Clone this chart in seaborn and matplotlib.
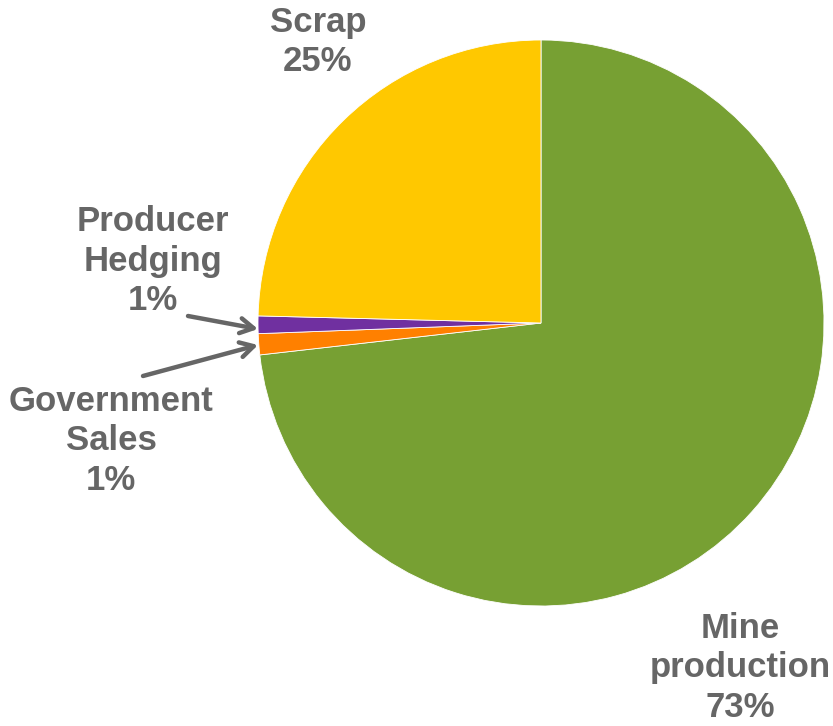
import matplotlib
matplotlib.use("Agg")
import matplotlib.pyplot as plt
import seaborn as sns

# Gold supply sources (share of total, %)
sources = ["Mine production", "Government Sales", "Producer Hedging", "Scrap"]
shares = [73.2, 1.2, 1.0, 24.6]
label_names = ["Mine\nproduction", "Government\nSales", "Producer\nHedging", "Scrap"]
colors = ["#77A033", "#FF8000", "#7030A0", "#FFC800"]

sns.set_theme(style="white")
plt.rcParams["font.family"] = ["Liberation Sans", "DejaVu Sans"]

W, H = 833, 726
fig = plt.figure(figsize=(W / 100, H / 100), dpi=100)
ax = fig.add_axes([0, 0, 1, 1])
ax.set_xlim(0, W)
ax.set_ylim(0, H)
ax.set_aspect("equal")
ax.axis("off")

cx, cy, r = 541, H - 323, 283
ax.pie(shares, colors=colors, startangle=90, counterclock=False,
       radius=r, center=(cx, cy), frame=False,
       wedgeprops=dict(linewidth=0.6, edgecolor="white"))
ax.set_xlim(0, W)
ax.set_ylim(0, H)

text_color = "#666666"
fs = 25
label_pos = {
    "Mine production": (740, H - 668),
    "Government Sales": (111, H - 441),
    "Producer Hedging": (153, H - 261),
    "Scrap": (318, H - 42),
}
for name, lab, val in zip(sources, label_names, shares):
    x, y = label_pos[name]
    ax.text(x, y, f"{lab}\n{round(val):d}%", ha="center", va="center",
            fontsize=fs, fontweight="bold", color=text_color,
            linespacing=1.25)

# Leader arrows for the two thin slices
for tail, head in [((188, H - 316), (258, H - 329)),
                   ((143, H - 376), (258, H - 345))]:
    ax.annotate("", xy=head, xytext=tail,
                arrowprops=dict(arrowstyle="->,head_length=0.8,head_width=0.45",
                                color=text_color, lw=3.2,
                                shrinkA=0, shrinkB=0))

fig.savefig("out.png", dpi=100, facecolor="white")
